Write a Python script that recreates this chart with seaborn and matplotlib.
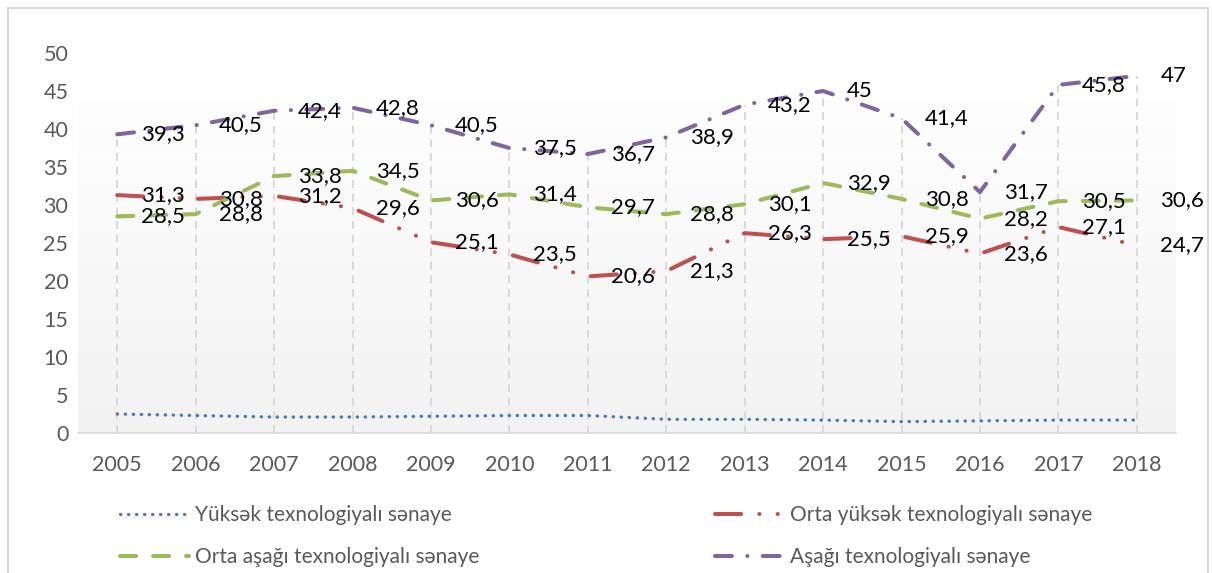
import numpy as np
import pandas as pd
import matplotlib
matplotlib.use("Agg")
import matplotlib.pyplot as plt
from matplotlib.patches import Rectangle
import seaborn as sns

# data
years = list(range(2005, 2019))
yuksek = [2.5, 2.3, 2.1, 2.1, 2.2, 2.3, 2.3, 1.8, 1.8, 1.7, 1.5, 1.6, 1.7, 1.7]
orta_yuksek = [31.3, 30.8, 31.2, 29.6, 25.1, 23.5, 20.6, 21.3, 26.3, 25.5, 25.9, 23.6, 27.1, 24.7]
orta_asagi = [28.5, 28.8, 33.8, 34.5, 30.6, 31.4, 29.7, 28.8, 30.1, 32.9, 30.8, 28.2, 30.5, 30.6]
asagi = [39.3, 40.5, 42.4, 42.8, 40.5, 37.5, 36.7, 38.9, 43.2, 45, 41.4, 31.7, 45.8, 47]

names = ["Yüksək texnologiyalı sənaye", "Orta yüksək texnologiyalı sənaye",
         "Orta aşağı texnologiyalı sənaye", "Aşağı texnologiyalı sənaye"]
colors = ["#4A7EBB", "#C0504D", "#9BBB59", "#8064A2"]
y_ticks = list(range(0, 55, 5))

df = pd.DataFrame({
    "year": years * 4,
    "value": yuksek + orta_yuksek + orta_asagi + asagi,
    "series": sum([[n] * len(years) for n in names], []),
})

sns.set_theme(style="white")
plt.rcParams["font.family"] = ["Lato", "Open Sans", "DejaVu Sans"]

fig = plt.figure(figsize=(12.12, 5.73), dpi=100)
ax = fig.add_axes([78 / 1212, 1 - 433 / 573, (1176 - 78) / 1212, 380 / 573])

# chart border
fig.patches.append(Rectangle((8 / 1212, -0.05), 1200 / 1212, 1 - 8 / 573 + 0.05,
                             transform=fig.transFigure, fill=False,
                             edgecolor="#d9d9d9", linewidth=1.5, zorder=0))

# soft gradient in the plot area
grad = np.linspace(0, 1, 256).reshape(-1, 1)
cmap = matplotlib.colors.LinearSegmentedColormap.from_list("g", ["#f2f2f2", "#fefefe"])
ax.imshow(grad, aspect="auto", cmap=cmap, origin="lower",
          extent=[0, 1, 0, (433 - 100) / 380], transform=ax.transAxes, zorder=0)

# drop lines from the top series
ax.vlines(years, 0, asagi, colors="#d9d9d9", linestyles=(0, (4, 3)), linewidth=1.4, zorder=1)

dash_map = {
    names[0]: (0.1, 2.3),
    names[1]: (6.5, 4.5, 0.05, 4.5, 0.05, 4.5),
    names[2]: (4.0, 4.2),
    names[3]: (4.2, 3.8, 0.05, 3.8),
}
sns.lineplot(data=df, x="year", y="value", hue="series", style="series",
             hue_order=names, style_order=names, palette=colors,
             dashes=dash_map, legend=False, ax=ax, linewidth=2.9, zorder=3)
lws = [2.4, 2.9, 2.9, 2.9]
for ln, lw in zip(ax.lines, lws):
    ln.set_dash_capstyle("round")
    ln.set_linewidth(lw)

# data labels
for vals in [orta_yuksek, orta_asagi, asagi]:
    for x, v in zip(years, vals):
        ax.annotate(f"{v:g}".replace(".", ","), (x, v), xytext=(17, 0),
                    textcoords="offset points", ha="left", va="center",
                    fontsize=16, color="black", zorder=5)

ax.set_xlim(2004.5, 2018.5)
ax.set_ylim(0, 50)
ax.set_xticks(years)
ax.set_yticks(y_ticks)
ax.tick_params(axis="x", length=0, pad=16, labelsize=15.5, labelcolor="#595959")
ax.tick_params(axis="y", length=0, pad=7, labelsize=15.5, labelcolor="#595959")
ax.set_xlabel("")
ax.set_ylabel("")
for s in ["top", "right", "left"]:
    ax.spines[s].set_visible(False)
ax.spines["bottom"].set_color("#d9d9d9")
ax.spines["bottom"].set_linewidth(1.2)
ax.set_facecolor("white")

lines = ax.lines[-4:]
handles = [plt.Line2D([], [], color=l.get_color(), linewidth=l.get_linewidth(),
                      dashes=dash_map[n], dash_capstyle="round")
           for l, n in zip(lines, names)]
order = [0, 2, 1, 3]
leg = fig.legend([handles[i] for i in order], [names[i] for i in order],
                 loc="upper left", bbox_to_anchor=(120 / 1212, 1 - 505 / 573),
                 ncol=2, frameon=False, fontsize=15, handlelength=3.3,
                 handletextpad=0.3, columnspacing=11.3, labelspacing=1.05,
                 borderpad=0, borderaxespad=0)
for t in leg.get_texts():
    t.set_color("#595959")

fig.savefig("out.png", dpi=100)
